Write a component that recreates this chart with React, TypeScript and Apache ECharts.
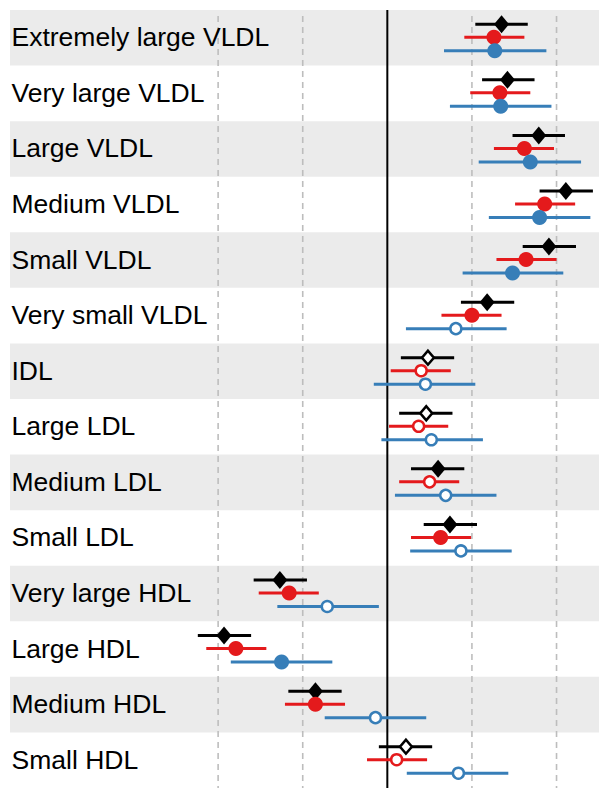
import React, { useEffect, useRef } from "react";
import * as echarts from "echarts";

const categories = [
  "Extremely large VLDL",
  "Very large VLDL",
  "Large VLDL",
  "Medium VLDL",
  "Small VLDL",
  "Very small VLDL",
  "IDL",
  "Large LDL",
  "Medium LDL",
  "Small LDL",
  "Very large HDL",
  "Large HDL",
  "Medium HDL",
  "Small HDL",
];

// Model 1 (black diamonds)
const blackEst = [0.135, 0.142, 0.179, 0.211, 0.191, 0.118, 0.048, 0.046, 0.06, 0.074, -0.127, -0.193, -0.085, 0.022];
const blackLo = [0.104, 0.112, 0.148, 0.18, 0.16, 0.087, 0.016, 0.014, 0.028, 0.043, -0.158, -0.224, -0.117, -0.01];
const blackHi = [0.166, 0.174, 0.21, 0.243, 0.223, 0.15, 0.079, 0.077, 0.091, 0.106, -0.095, -0.161, -0.054, 0.053];
const blackSig = [1, 1, 1, 1, 1, 1, 0, 0, 1, 1, 1, 1, 1, 0];

// Model 2 (red circles)
const redEst = [0.126, 0.133, 0.162, 0.186, 0.164, 0.1, 0.04, 0.037, 0.05, 0.063, -0.116, -0.179, -0.085, 0.011];
const redLo = [0.091, 0.098, 0.126, 0.151, 0.129, 0.064, 0.004, 0.002, 0.014, 0.028, -0.152, -0.214, -0.121, -0.024];
const redHi = [0.162, 0.169, 0.197, 0.222, 0.2, 0.135, 0.075, 0.072, 0.085, 0.099, -0.081, -0.143, -0.05, 0.047];
const redSig = [1, 1, 1, 1, 1, 1, 0, 0, 0, 1, 1, 1, 1, 0];

// Model 3 (blue circles)
const blueEst = [0.127, 0.134, 0.169, 0.18, 0.148, 0.081, 0.045, 0.052, 0.069, 0.087, -0.071, -0.125, -0.014, 0.084];
const blueLo = [0.067, 0.074, 0.108, 0.12, 0.089, 0.022, -0.016, -0.007, 0.009, 0.027, -0.13, -0.185, -0.074, 0.023];
const blueHi = [0.188, 0.194, 0.229, 0.24, 0.208, 0.141, 0.104, 0.113, 0.129, 0.147, -0.01, -0.065, 0.046, 0.143];
const blueSig = [1, 1, 1, 1, 1, 0, 0, 0, 0, 0, 0, 1, 0, 0];

const dashedTicks = [-0.2, -0.1, 0.1, 0.2];
const zeroTick = [0];

const X_MIN = -0.446;
const X_MAX = 0.2502;

const BLACK = "#000000";
const RED = "#E41A1C";
const BLUE = "#377EB8";

export default function App() {
  const ref = useRef<HTMLDivElement>(null);

  useEffect(() => {
    if (!ref.current) return;
    const chart = echarts.init(ref.current, undefined, { renderer: "svg" });

    const n = categories.length;
    const bandRows = categories.map((_, i) => i).filter((i) => i % 2 === 0);

    const groups = [
      { name: "m1", est: blackEst, lo: blackLo, hi: blackHi, sig: blackSig, color: BLACK, off: -0.243, symbol: "diamond" },
      { name: "m2", est: redEst, lo: redLo, hi: redHi, sig: redSig, color: RED, off: -0.009, symbol: "circle" },
      { name: "m3", est: blueEst, lo: blueLo, hi: blueHi, sig: blueSig, color: BLUE, off: 0.234, symbol: "circle" },
    ];

    const series: any[] = [];

    series.push({
      type: "custom",
      name: "bands",
      silent: true,
      z: 0,
      data: bandRows.map((r) => [r]),
      renderItem: (params: any, api: any) => {
        const r = api.value(0);
        const p1 = api.coord([X_MIN, r - 0.5]);
        const p2 = api.coord([X_MAX, r + 0.5]);
        return {
          type: "rect",
          shape: { x: p1[0], y: p1[1], width: p2[0] - p1[0], height: p2[1] - p1[1] },
          style: { fill: "#EBEBEB" },
        };
      },
    });

    series.push({
      type: "custom",
      name: "dashed",
      silent: true,
      z: 1,
      data: dashedTicks.map((v) => [v]),
      renderItem: (params: any, api: any) => {
        const v = api.value(0);
        const p1 = api.coord([v, -0.5]);
        const p2 = api.coord([v, n - 0.5]);
        return {
          type: "line",
          shape: { x1: p1[0], y1: p1[1] + 6, x2: p2[0], y2: p2[1] },
          style: { stroke: "#BDBDBD", lineWidth: 1.6, lineDash: [6, 5] },
        };
      },
    });

    series.push({
      type: "custom",
      name: "zero",
      silent: true,
      z: 1,
      data: zeroTick.map((v) => [v]),
      renderItem: (params: any, api: any) => {
        const v = api.value(0);
        const p1 = api.coord([v, -0.5]);
        const p2 = api.coord([v, n - 0.5]);
        return {
          type: "line",
          shape: { x1: p1[0], y1: p1[1], x2: p2[0], y2: p2[1] },
          style: { stroke: "#000", lineWidth: 2 },
        };
      },
    });

    series.push({
      type: "custom",
      name: "labels",
      silent: true,
      z: 2,
      data: categories.map((c, i) => [X_MIN, i, c]),
      renderItem: (params: any, api: any) => {
        const i = api.value(1);
        const p = api.coord([X_MIN, i]);
        return {
          type: "text",
          x: p[0] + 1.5,
          y: p[1] - 0.5,
          style: {
            text: categories[i],
            fill: "#000",
            fontSize: 26.5,
            fontFamily: "Liberation Sans, Arial, sans-serif",
            align: "left",
            verticalAlign: "middle",
          },
        };
      },
    });

    groups.forEach((g) => {
      series.push({
        type: "custom",
        name: g.name + "-ci",
        silent: true,
        z: 3,
        data: g.est.map((_, i) => [g.lo[i], g.hi[i], i + g.off]),
        renderItem: (params: any, api: any) => {
          const lo = api.value(0);
          const hi = api.value(1);
          const y = api.value(2);
          const p1 = api.coord([lo, y]);
          const p2 = api.coord([hi, y]);
          return {
            type: "line",
            shape: { x1: p1[0], y1: p1[1], x2: p2[0], y2: p2[1] },
            style: { stroke: g.color, lineWidth: 3 },
          };
        },
      });
      series.push({
        type: "scatter",
        name: g.name,
        silent: true,
        z: 4,
        symbol: g.symbol,
        itemStyle: { opacity: 1 },
        data: g.est.map((v, i) => {
          const filled = g.sig[i] === 1;
          const isDiamond = g.symbol === "diamond";
          return {
            value: [v, i + g.off],
            symbolSize: isDiamond ? (filled ? [15, 18] : [12, 14]) : filled ? 15 : 11,
            itemStyle: filled
              ? { color: g.color, borderWidth: 0, opacity: 1 }
              : { color: "#ffffff", borderColor: g.color, borderWidth: 2.5, opacity: 1 },
          };
        }),
      });
    });

    chart.setOption({
      animation: false,
      grid: { left: 10, right: 0, top: 10, bottom: 0, containLabel: false },
      xAxis: {
        type: "value",
        min: X_MIN,
        max: X_MAX,
        show: false,
        splitLine: { show: false },
      },
      yAxis: {
        type: "value",
        min: -0.5,
        max: n - 0.5,
        inverse: true,
        show: false,
        splitLine: { show: false },
      },
      series,
    });

    return () => chart.dispose();
  }, []);

  return (
    <div
      ref={ref}
      style={{ position: "absolute", left: 0, top: 0, width: 599, height: 788, background: "#fff" }}
    />
  );
}
